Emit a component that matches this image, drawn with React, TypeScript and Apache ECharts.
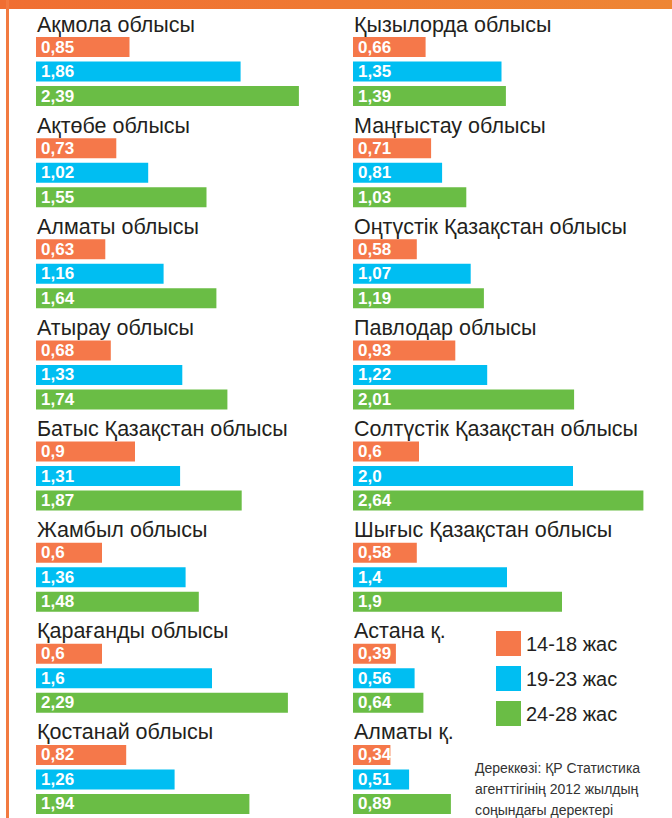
import React, { useEffect, useRef } from "react";
import * as echarts from "echarts";

const leftRegions = [
  "Ақмола облысы",
  "Ақтөбе облысы",
  "Алматы облысы",
  "Атырау облысы",
  "Батыс Қазақстан облысы",
  "Жамбыл облысы",
  "Қарағанды облысы",
  "Қостанай облысы",
];
const left14_18 = ["0,85", "0,73", "0,63", "0,68", "0,9", "0,6", "0,6", "0,82"];
const left19_23 = ["1,86", "1,02", "1,16", "1,33", "1,31", "1,36", "1,6", "1,26"];
const left24_28 = ["2,39", "1,55", "1,64", "1,74", "1,87", "1,48", "2,29", "1,94"];

const rightRegions = [
  "Қызылорда облысы",
  "Маңғыстау облысы",
  "Оңтүстік Қазақстан облысы",
  "Павлодар облысы",
  "Солтүстік Қазақстан облысы",
  "Шығыс Қазақстан облысы",
  "Астана қ.",
  "Алматы қ.",
];
const right14_18 = ["0,66", "0,71", "0,58", "0,93", "0,6", "0,58", "0,39", "0,34"];
const right19_23 = ["1,35", "0,81", "1,07", "1,22", "2,0", "1,4", "0,56", "0,51"];
const right24_28 = ["1,39", "1,03", "1,19", "2,01", "2,64", "1,9", "0,64", "0,89"];

const seriesNames = ["14-18 жас", "19-23 жас", "24-28 жас"];
const colors = ["#F5784A", "#00BEF2", "#6ABD45"];
const sourceLines = ["Дереккөзі: ҚР Статистика", "агенттігінің 2012 жылдың", "соңындағы деректері"];

const FONT = "'Liberation Sans', Arial, sans-serif";

export default function App() {
  const ref = useRef<HTMLDivElement>(null);
  useEffect(() => {
    document.body.style.margin = "0";
    const chart = echarts.init(ref.current!, null, { renderer: "svg" });
    const toData = (arr: string[]) =>
      arr.map((s) => ({ value: parseFloat(s.replace(",", ".")), label: s }));

    const makeSeries = (idx: number, cols: string[][]) =>
      cols.map((arr, i) => ({
        name: seriesNames[i],
        type: "bar",
        xAxisIndex: idx,
        yAxisIndex: idx,
        barWidth: 20,
        barGap: "22.5%",
        itemStyle: { color: colors[i] },
        data: toData(arr),
        label: {
          show: true,
          position: "insideLeft",
          distance: 5,
          color: "#fff",
          fontWeight: "bold",
          fontSize: 17,
          fontFamily: FONT,
          formatter: (p: any) => p.data.label,
        },
      }));

    const yAxisCommon = {
      type: "category",
      inverse: true,
      axisLine: { show: false },
      axisTick: { show: false },
      splitLine: { show: false },
      axisLabel: {
        inside: true,
        interval: 0,
        showMinLabel: true,
        showMaxLabel: true,
        hideOverlap: false,
        margin: 1,
        align: "left",
        verticalAlign: "middle",
        formatter: (v: string) => `{t|${v}}\n{g| }`,
        rich: {
          t: { fontSize: 21.5, lineHeight: 22, color: "#231F20", fontFamily: FONT },
          g: { fontSize: 10, lineHeight: 94, height: 94 },
        },
      },
    };

    chart.setOption({
      animation: false,
      grid: [
        { left: 36, top: 21, width: 330, height: 809, outerBoundsMode: "none", containLabel: false },
        { left: 353, top: 21, width: 319, height: 809, outerBoundsMode: "none", containLabel: false },
      ],
      xAxis: [
        { type: "value", gridIndex: 0, min: 0, max: 3, show: false },
        { type: "value", gridIndex: 1, min: 0, max: 2.9, show: false },
      ],
      yAxis: [
        { ...yAxisCommon, gridIndex: 0, data: leftRegions },
        { ...yAxisCommon, gridIndex: 1, data: rightRegions },
      ],
      legend: {
        data: seriesNames,
        orient: "vertical",
        left: 496,
        top: 631,
        padding: 0,
        itemWidth: 25,
        itemHeight: 25,
        itemGap: 10,
        icon: "rect",
        selectedMode: false,
        textStyle: { fontSize: 20, color: "#231F20", fontFamily: FONT },
      },
      series: [
        ...makeSeries(0, [left14_18, left19_23, left24_28]),
        ...makeSeries(1, [right14_18, right19_23, right24_28]),
      ],
      graphic: [
        {
          type: "rect",
          shape: { x: 0, y: 0, width: 672, height: 9 },
          style: {
            fill: new echarts.graphic.LinearGradient(0, 0, 1, 0, [
              { offset: 0, color: "#F06E32" },
              { offset: 1, color: "#EE8634" },
            ]),
          },
          silent: true,
        },
        {
          type: "rect",
          shape: { x: 6, y: 0, width: 3, height: 818 },
          style: { fill: "#F27A40" },
          silent: true,
        },
        {
          type: "text",
          left: 475,
          top: 757,
          style: {
            text: sourceLines.join("\n"),
            fontSize: 14,
            lineHeight: 21,
            fill: "#333333",
            fontFamily: FONT,
          },
        },
      ],
    });
    return () => chart.dispose();
  }, []);
  return (
    <div
      ref={ref}
      style={{ position: "absolute", left: 0, top: 0, width: 672, height: 818 }}
    />
  );
}
